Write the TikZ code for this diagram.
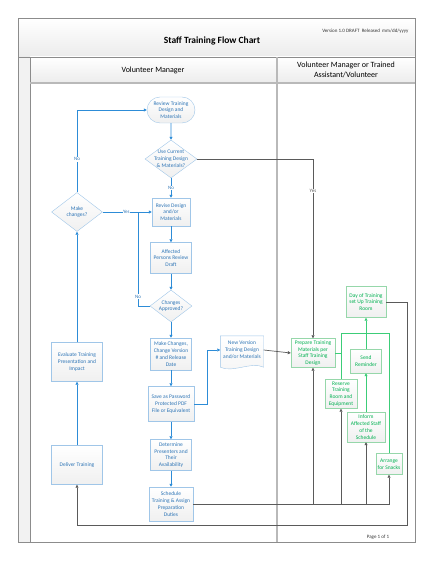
\documentclass[tikz,border=0pt]{standalone}
\usepackage{fontspec}
\setmainfont{Carlito}
\usetikzlibrary{shapes.geometric,shapes.misc,arrows.meta}
\definecolor{txtblue}{RGB}{46,117,182}
\definecolor{bdblue}{RGB}{160,198,232}
\definecolor{lnblue}{RGB}{45,140,215}
\definecolor{txtgreen}{RGB}{0,176,80}
\definecolor{bdgreen}{RGB}{150,215,170}
\definecolor{lngreen}{RGB}{60,205,120}
\definecolor{lngray}{RGB}{90,90,90}
\definecolor{framegray}{RGB}{140,140,140}

\begin{document}
\begin{tikzpicture}[x=1pt,y=-1pt,
	small/.style={font=\fontsize{5.5}{6.8}\selectfont, align=center, inner sep=1pt},
	proc/.style 2 args={small, draw=bdblue, text=txtblue, top color=white, bottom color=gray!12, minimum width=#1pt, minimum height=#2pt},
	gproc/.style 2 args={small, draw=bdgreen, text=txtgreen, top color=white, bottom color=gray!12, minimum width=#1pt, minimum height=#2pt},
	term/.style 2 args={proc={#1}{#2}, rounded rectangle},
	decide/.style 2 args={small, diamond, draw=bdblue, text=txtblue, top color=white, bottom color=gray!12, inner sep=-5pt, minimum width=#1pt, minimum height=#2pt},
	bline/.style={draw=lnblue, line width=0.9pt},
	gline/.style={draw=lngreen, line width=0.9pt},
	flow/.style={bline, -{Triangle[length=3pt,width=3pt]}},
	flowg/.style={gline, -{Triangle[length=3pt,width=3pt]}},
	flowk/.style={draw=lngray, line width=0.7pt, -{Triangle[length=3pt,width=3pt]}},
	lbl/.style={font=\fontsize{5}{6}\selectfont, fill=white, inner sep=0.5pt, text=txtblue}]
	\useasboundingbox (0,0) rectangle (440,569);

	\shade[top color=white, bottom color=gray!15] (18,18) rectangle (415,57);
	\shade[top color=white, bottom color=gray!15] (30,57) rectangle (415,83);
	\fill[gray!10] (18,57) rectangle (30,542);
	\draw[framegray] (18,18) rectangle (415,542);
	\draw[framegray] (18,57) -- (415,57);
	\draw[framegray] (30,57) -- (30,542);
	\draw[gray!55, line width=1.2pt] (30,83) -- (415,83);
	\draw[gray!55, line width=1.2pt] (277,57) -- (277,542);

	\node[font=\fontsize{9.5}{11}\selectfont\bfseries] (title) at (212,41) {Staff Training Flow Chart};
	\node[font=\fontsize{5}{6}\selectfont, anchor=east, text=black!80] (ver) at (412,31) {Version 1.0 DRAFT\ \ Released\ \ mm/dd/yyyy};
	\node[font=\fontsize{8}{10}\selectfont] (lane1) at (153,70) {Volunteer Manager};
	\node[font=\fontsize{8}{10}\selectfont, align=center] (lane2) at (346,70) {Volunteer Manager or Trained\\Assistant/Volunteer};
	\node[font=\fontsize{5}{6}\selectfont, text=black!80] (page) at (378,537) {Page 1 of 1};

	\node[term={50}{26}] (review) at (171,110) {Review Training\\Design and\\Materials};
	\node[decide={52}{38}] (uc) at (171,159) {Use Current\\Training Design\\\& Materials?};
	\node[proc={38}{28}] (rev) at (171,212) {Revise Design\\and/or\\Materials};
	\node[decide={51}{39}] (mc) at (77,212) {Make\\changes?};
	\node[proc={41}{31}] (aff) at (171,258) {Affected\\Persons Review\\Draft};
	\node[decide={42}{32}] (ca) at (171,306) {Changes\\Approved?};
	\node[proc={41}{32}] (mk) at (171,354) {Make Changes,\\Change Version\\\# and Release\\Date};
	\node[proc={46}{35}] (save) at (171,404) {Save as Password\\Protected PDF\\File or Equivalent};
	\node[proc={41}{31}] (det) at (171,455) {Determine\\Presenters and\\Their\\Availability};
	\node[proc={44}{34}] (sch) at (171,504) {Schedule\\Training \& Assign\\Preparation\\Duties};
	\node[proc={51}{39}] (eval) at (77,362) {Evaluate Training\\Presentation and\\Impact};
	\node[proc={51}{39}] (dlv) at (77,465) {Deliver Training};
	\node[small, text=txtblue, minimum width=43pt, minimum height=28pt] (nv) at (242,350) {New Version\\Training Design\\and/or Materials};
	\draw[bdblue, top color=white, bottom color=gray!8] (nv.north west) -- (nv.north east) -- ([yshift=-3pt]nv.south east)
		.. controls +(-12,-6) and +(12,6) .. ([yshift=-3pt]nv.south west) -- cycle;
	\node[small, text=txtblue] at (nv) {New Version\\Training Design\\and/or Materials};

	\node[gproc={44}{29}] (prep) at (313,353) {Prepare Training\\Materials per\\Staff Training\\Design};
	\node[gproc={40}{31}] (day) at (366,302) {Day of Training\\set Up Training\\Room};
	\node[gproc={31}{24}] (rem) at (366,361) {Send\\Reminder};
	\node[gproc={32}{29}] (res) at (341,394) {Reserve\\Training\\Room and\\Equipment};
	\node[gproc={38}{30}] (inf) at (366,427) {Inform\\Affected Staff\\of the\\Schedule};
	\node[gproc={26}{21}] (snk) at (389,464) {Arrange\\for Snacks};

	\coordinate (jn) at (138,212);
	\coordinate (gtl) at (341,333);
	\coordinate (lp) at (407,525);

	\draw[flow] (review) -- (uc);
	\draw[flow] (uc) -- node[lbl] (lno2) {No} (rev);
	\draw[flow] (mc) -- node[lbl, pos=0.48] (lyes1) {Yes} (rev);
	\draw[flow] (mc.north) |- node[lbl, pos=0.2] (lno1) {No} (review.west);
	\draw[bline] (ca.west) -| node[lbl, pos=0.55] (lno3) {No} (jn);
	\draw[flow] (rev) -- (aff);
	\draw[flow] (aff) -- (ca);
	\draw[flow] (ca) -- (mk);
	\draw[flow] (mk) -- (save);
	\draw[flow] (save) -- (det);
	\draw[flow] (det) -- (sch);
	\draw[flow] (save.east) -- +(13,0) |- (nv.west);
	\draw[flow] (dlv) -- (eval);
	\draw[flow] (eval) -- (mc);

	\draw[flowk] (uc.east) -| node[lbl, pos=0.59, text=lngray] (lyes2) {Yes} (prep.north);
	\draw[flowk] (nv.east) -- (prep.west);
	\draw[flowk] (sch.east) -| (snk.south);
	\draw[flowk] (prep.south |- sch.east) -- (prep.south);
	\draw[flowk] (res.south |- sch.east) -- (res.south);
	\draw[flowk] (inf.south |- sch.east) -- (inf.south);
	\draw[flowk] (day.east) -| (lp) -| (dlv.south);

	\draw[gline] (prep.east) -| (gtl) -| (snk.north);
	\draw[gline] (gtl) -- (res.north);
	\draw[flowg] (rem) -- (day);
	\draw[flowg] (inf) -- (rem);
\end{tikzpicture}
\end{document}
